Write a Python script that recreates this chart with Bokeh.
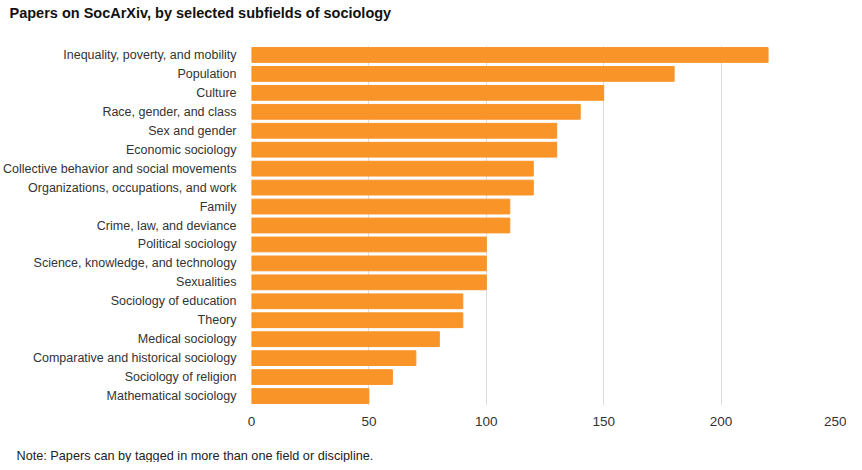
from bokeh.plotting import figure
from bokeh.models import Title, Range1d, FactorRange
from bokeh.embed import file_html
from bokeh.resources import INLINE

categories = [
    "Inequality, poverty, and mobility",
    "Population",
    "Culture",
    "Race, gender, and class",
    "Sex and gender",
    "Economic sociology",
    "Collective behavior and social movements",
    "Organizations, occupations, and work",
    "Family",
    "Crime, law, and deviance",
    "Political sociology",
    "Science, knowledge, and technology",
    "Sexualities",
    "Sociology of education",
    "Theory",
    "Medical sociology",
    "Comparative and historical sociology",
    "Sociology of religion",
    "Mathematical sociology",
]
papers = [220, 180, 150, 140, 130, 130, 120, 120, 110, 110,
          100, 100, 100, 90, 90, 80, 70, 60, 50]
x_ticks = [0, 50, 100, 150, 200, 250]
title_text = "Papers on SocArXiv, by selected subfields of sociology"
note_text = "Note: Papers can by tagged in more than one field or discipline."

FONT = "Liberation Sans"

p = figure(width=846, height=462, output_backend="svg", toolbar_location=None,
           y_range=FactorRange(factors=list(reversed(categories)), range_padding=0),
           x_range=Range1d(0, 250),
           min_border_left=242, min_border_right=8, min_border_top=0,
           min_border_bottom=0)

p.hbar(y=categories, right=papers, left=0, height=0.78, color="#F99429")

p.title.visible = False
# spacer between frame and title
top_gap = Title(text=" ", text_font=FONT, text_font_size="1px", standoff=20)
p.add_layout(top_gap, "above")
t = Title(text=title_text,
          text_font=FONT, text_font_size="14.5px", text_font_style="bold",
          text_color="#111111", offset=-242, standoff=4)
p.add_layout(t, "above")

bottom_gap = Title(text=" ", text_font=FONT, text_font_size="1px", standoff=15)
p.add_layout(bottom_gap, "below")
note = Title(text=note_text,
             text_font=FONT, text_font_size="12.7px", text_font_style="normal",
             text_color="#222222", offset=-235, standoff=0)
p.add_layout(note, "below")

p.xaxis.ticker = x_ticks
p.xaxis.axis_line_color = None
p.xaxis.major_tick_line_color = None
p.xaxis.minor_tick_line_color = None
p.xaxis.major_label_text_font = FONT
p.xaxis.major_label_text_font_size = "13.5px"
p.xaxis.major_label_text_color = "#333333"
p.xaxis.major_label_standoff = 5

p.yaxis.axis_line_color = None
p.yaxis.major_tick_line_color = None
p.yaxis.minor_tick_line_color = None
p.yaxis.major_label_text_font = FONT
p.yaxis.major_label_text_font_size = "12.5px"
p.yaxis.major_label_text_color = "#333333"
p.yaxis.major_label_standoff = 9

p.ygrid.grid_line_color = None
p.xgrid.grid_line_color = "#DDDDDD"
p.outline_line_color = None
p.background_fill_color = "white"
p.border_fill_color = "white"

open("out.html", "w").write(file_html(p, INLINE))
